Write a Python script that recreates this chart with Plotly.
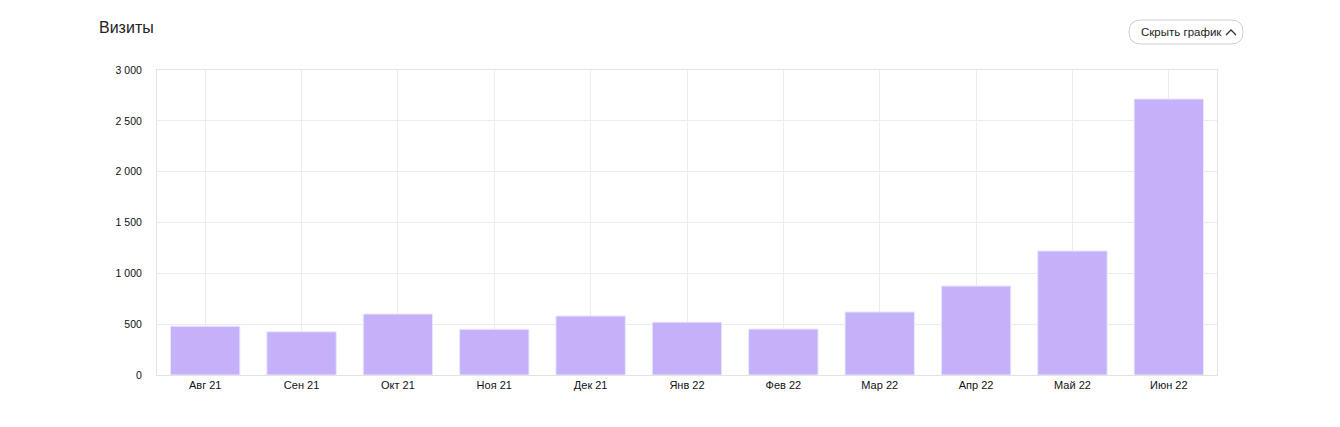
import plotly.graph_objects as go

months = ["Авг 21", "Сен 21", "Окт 21", "Ноя 21", "Дек 21", "Янв 22",
          "Фев 22", "Мар 22", "Апр 22", "Май 22", "Июн 22"]
visits = [480, 425, 600, 450, 580, 520, 452, 620, 875, 1220, 2715]
y_ticks = [0, 500, 1000, 1500, 2000, 2500, 3000]

W, H = 1340, 427
OFF = 8  # page body offset
# target plot box in screenshot: x 157..1217, y 70..375
L, T = 157 - OFF, 70 - OFF
R = W - (1217 - OFF)
B = H - (375 - OFF)

font = "Liberation Sans, Arial, sans-serif"

fig = go.Figure()
fig.add_trace(go.Bar(
    x=months, y=visits,
    marker=dict(color="#c4b1fa", line=dict(color="#ece6fe", width=1)),
    width=0.72,
    hovertemplate="%{x}: %{y}<extra></extra>",
))

fig.update_layout(
    width=W, height=H,
    margin=dict(l=L, r=R, t=T, b=B),
    paper_bgcolor="white", plot_bgcolor="white",
    separators=". ",
    showlegend=False,
    font=dict(family=font, size=11, color="#111"),
    xaxis=dict(showgrid=True, gridcolor="#ececec", gridwidth=1,
               showline=True, linecolor="#e3e3e3", linewidth=1, mirror=True,
               ticks="", tickfont=dict(size=11, color="#111"),
               fixedrange=True),
    yaxis=dict(range=[0, 3000], tickvals=y_ticks, showgrid=True,
               separatethousands=True,
               gridcolor="#ececec", gridwidth=1, zeroline=False,
               showline=True, linecolor="#e3e3e3", linewidth=1, mirror=True,
               ticks="", ticklabelstandoff=12,
               tickfont=dict(size=10.5, color="#111"), fixedrange=True),
)

# helpers: screenshot pixel -> paper coords
px = lambda v: (v - OFF - L) / (W - L - R)
py = lambda v: (H - B - (v - OFF)) / (H - T - B)

fig.add_annotation(text="Визиты", xref="paper", yref="paper",
                   x=px(97), y=py(28), xanchor="left", yanchor="middle",
                   showarrow=False, font=dict(size=16, color="#222", family=font))
fig.add_annotation(text="Скрыть график", xref="paper", yref="paper",
                   x=px(1139), y=py(32), xanchor="left", yanchor="middle",
                   showarrow=False, font=dict(size=11.5, color="#222", family=font))

# rounded button outline
cx, cy = px(1186), py(32)
hw, hh = 57, 12
r = 12
path = (f"M {-hw + r},{-hh} L {hw - r},{-hh} Q {hw},{-hh} {hw},{0} Q {hw},{hh} {hw - r},{hh} "
        f"L {-hw + r},{hh} Q {-hw},{hh} {-hw},{0} Q {-hw},{-hh} {-hw + r},{-hh} Z")
fig.add_shape(type="path", xref="paper", yref="paper",
              xsizemode="pixel", ysizemode="pixel", xanchor=cx, yanchor=cy,
              path=path, line=dict(color="#cfcfcf", width=1), fillcolor="rgba(0,0,0,0)")
# chevron
chev = "M -5,-3 L 0,2 L 5,-3"
fig.add_shape(type="path", xref="paper", yref="paper",
              xsizemode="pixel", ysizemode="pixel", xanchor=px(1231), yanchor=py(32),
              path=chev, line=dict(color="#333", width=1.3))

fig.write_html("out.html")
